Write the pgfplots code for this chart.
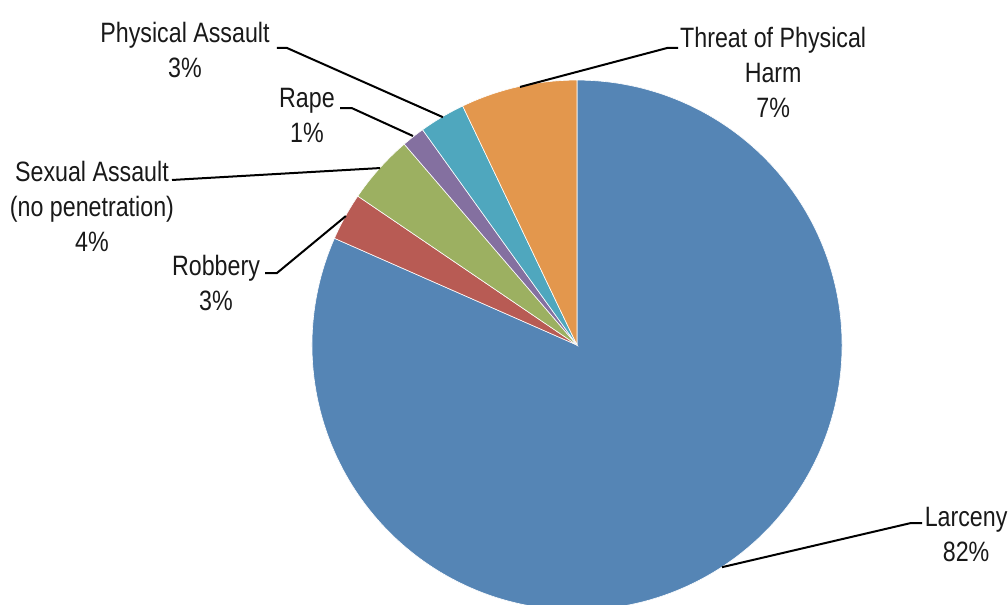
\documentclass[border=0pt]{standalone}
\usepackage{pgfplots}
\usepackage{pgfplotstable}
\pgfplotsset{compat=1.18}
\usepackage{fontspec}
\setmainfont{Liberation Sans}[FakeStretch=0.83]

\definecolor{cLar}{HTML}{5585B5}
\definecolor{cRob}{HTML}{B85B54}
\definecolor{cSex}{HTML}{9CB061}
\definecolor{cRap}{HTML}{8470A0}
\definecolor{cPhy}{HTML}{4FA7BE}
\definecolor{cThr}{HTML}{E3974D}

% percentages, clockwise from 12 o'clock
\pgfplotstableread{
name pct
Larceny 81.6
Robbery 2.9
Sexual 4.2
Rape 1.4
Physical 2.8
Threat 7.1
}\piedata

\begin{document}%
\pgfmathsetmacro\aA{90}%
\pgfplotstablegetelem{0}{pct}\of\piedata\pgfmathsetmacro\aB{\aA-3.6*\pgfplotsretval}%
\pgfplotstablegetelem{1}{pct}\of\piedata\pgfmathsetmacro\aC{\aB-3.6*\pgfplotsretval}%
\pgfplotstablegetelem{2}{pct}\of\piedata\pgfmathsetmacro\aD{\aC-3.6*\pgfplotsretval}%
\pgfplotstablegetelem{3}{pct}\of\piedata\pgfmathsetmacro\aE{\aD-3.6*\pgfplotsretval}%
\pgfplotstablegetelem{4}{pct}\of\piedata\pgfmathsetmacro\aF{\aE-3.6*\pgfplotsretval}%
\pgfplotstablegetelem{5}{pct}\of\piedata\pgfmathsetmacro\aG{\aF-3.6*\pgfplotsretval}%
\begin{tikzpicture}
\useasboundingbox (-288.51pt,-129.48pt) rectangle (215.49pt,172.55pt);
\begin{axis}[
  at={(0,0)}, anchor=origin,
  width=504pt, height=302pt, scale only axis,
  hide axis,
  xmin=-2.177, xmax=1.626, ymin=-0.977, ymax=1.302,
  clip=true,
]
\addplot[fill=cLar, draw=white, line width=0.3pt, domain=\aB:\aA, samples=200] ({cos(x)},{sin(x)}) -- (axis cs:0,0) -- cycle;
\addplot[fill=cRob, draw=white, line width=0.3pt, domain=\aC:\aB, samples=20] ({cos(x)},{sin(x)}) -- (axis cs:0,0) -- cycle;
\addplot[fill=cSex, draw=white, line width=0.3pt, domain=\aD:\aC, samples=20] ({cos(x)},{sin(x)}) -- (axis cs:0,0) -- cycle;
\addplot[fill=cRap, draw=white, line width=0.3pt, domain=\aE:\aD, samples=10] ({cos(x)},{sin(x)}) -- (axis cs:0,0) -- cycle;
\addplot[fill=cPhy, draw=white, line width=0.3pt, domain=\aF:\aE, samples=20] ({cos(x)},{sin(x)}) -- (axis cs:0,0) -- cycle;
\addplot[fill=cThr, draw=white, line width=0.3pt, domain=\aG:\aF, samples=30] ({cos(x)},{sin(x)}) -- (axis cs:0,0) -- cycle;

% leader lines
\draw[line width=1pt] (axis cs:-1.132,1.121) -- (axis cs:-1.094,1.121) -- (axis cs:-0.506,0.860);
\draw[line width=1pt] (axis cs:-0.894,0.894) -- (axis cs:-0.849,0.894) -- (axis cs:-0.619,0.789);
\draw[line width=1pt] (axis cs:-1.528,0.623) -- (axis cs:-0.743,0.668);
\draw[line width=1pt] (axis cs:-1.177,0.272) -- (axis cs:-1.132,0.272) -- (axis cs:-0.872,0.487);
\draw[line width=1pt] (axis cs:0.381,1.121) -- (axis cs:0.340,1.121) -- (axis cs:-0.215,0.974);
\draw[line width=1pt] (axis cs:1.302,-0.672) -- (axis cs:1.257,-0.672) -- (axis cs:0.547,-0.838);

% labels
\begin{scope}[every node/.style={align=center, inner sep=0pt, text=black!90, font=\fontsize{14}{17.5}\selectfont}]
\node at (axis cs:-1.479,1.115) {Physical Assault\\3\%};
\node at (axis cs:-1.019,0.866) {Rape\\1\%};
\node at (axis cs:-1.830,0.525) {Sexual Assault\\(no penetration)\\4\%};
\node at (axis cs:-1.362,0.234) {Robbery\\3\%};
\node at (axis cs:0.740,1.030) {Threat of Physical\\Harm\\7\%};
\node at (axis cs:1.468,-0.713) {Larceny\\82\%};
\end{scope}
\end{axis}
\end{tikzpicture}%
\end{document}
